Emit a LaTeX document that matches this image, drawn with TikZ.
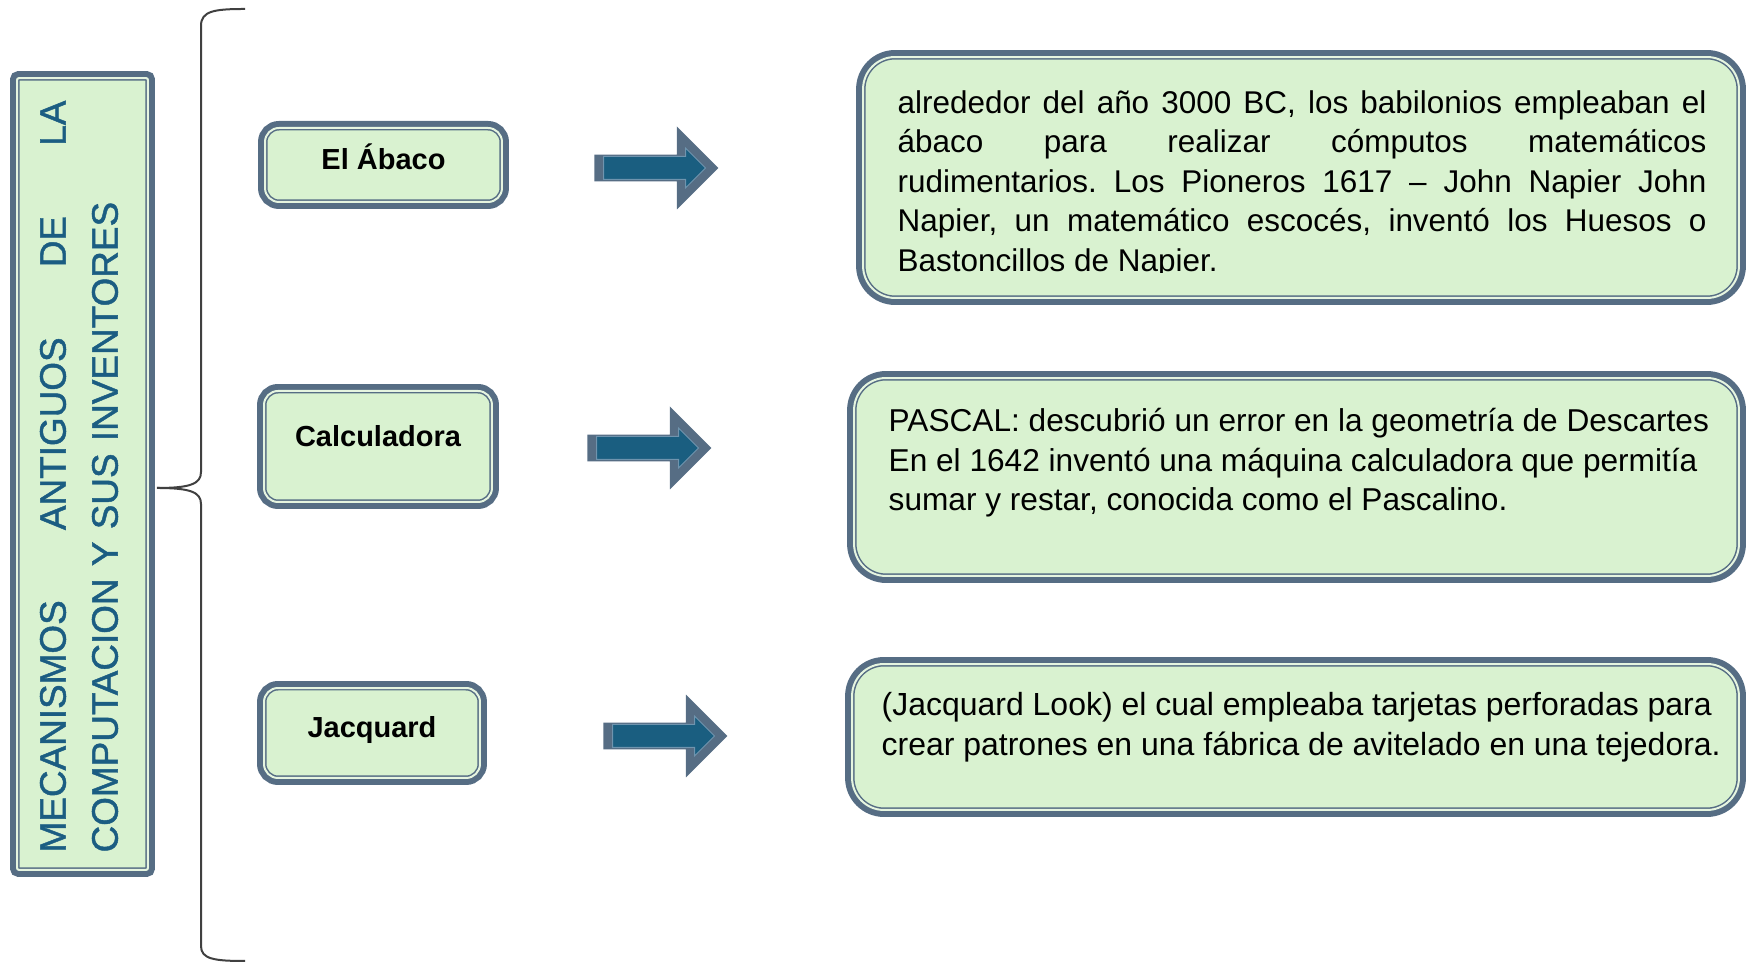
\documentclass[tikz,border=0pt]{standalone}
\usepackage{fontspec}
\setmainfont{Liberation Sans}
\usetikzlibrary{shapes.arrows}
\definecolor{edgeblue}{HTML}{566D84}
\definecolor{palegreen}{HTML}{D9F2D0}
\definecolor{gapgreen}{HTML}{E6F5E0}
\definecolor{titleblue}{HTML}{1B5D82}
\definecolor{arrowfill}{HTML}{1A5E80}
\definecolor{arrowline}{HTML}{6F94AE}
\definecolor{bracegray}{HTML}{404040}
\tikzset{>=stealth}
\tikzset{
  framed/.style={fill=palegreen, draw=edgeblue, double=gapgreen, line width=0.03cm,
    double distance=0.04cm, preaction={draw=edgeblue, line width=0.28cm}},
  titlebox/.style={framed, rounded corners=0.04cm, minimum width=2.62cm, minimum height=15.84cm},
  titletext/.style={rotate=90, text width=15.04cm, align=left, text=titleblue,
    font=\addfontfeature{FakeBold=1.2}\fontsize{21}{29.6}\selectfont},
  topicbox/.style={framed, rounded corners=0.28cm, font=\bfseries\fontsize{16.5}{20}\selectfont,
    text height=0.75em, text depth=0.25em},
  infobox/.style={framed, rounded corners=0.64cm},
  bodytext/.style={anchor=north west, inner sep=0pt, font=\frenchspacing\fontsize{17.9}{22.5}\selectfont},
  arrowouter/.style={single arrow, anchor=tail, fill=edgeblue, minimum height=2.48cm,
    minimum width=1.66cm, single arrow head extend=0.43cm, inner sep=0.2cm},
  arrowinner/.style={single arrow, anchor=tail, fill=arrowfill, draw=arrowline, line width=0.02cm,
    minimum height=2.04cm, minimum width=0.77cm, single arrow head extend=0.166cm, inner sep=0.22cm},
  bracecurve/.style={draw=bracegray, line width=0.04cm}
}

\begin{document}
\begin{tikzpicture}[x=0.02cm, y=0.02cm]
    \useasboundingbox (0,0) rectangle (1748,966);
    % title and brace
    \node [titlebox] (title) at (82.5,492) {};
    \node [titletext] (titlelines) at ([shift={(-0.07cm,-0.05cm)}]title.center) {MECANISMOS\hfill ANTIGUOS\hfill DE\hfill LA\\COMPUTACION Y SUS INVENTORES};
    \draw [bracecurve] (245,957) .. controls (214,957) and (201,955) .. (201,940) -- (201,494)
        .. controls (201,482) and (190,478) .. (157,478);
    \draw [bracecurve] (157,478) .. controls (190,478) and (201,474) .. (201,462) -- (201,20)
        .. controls (201,7) and (214,5) .. (245,5);
    % topics
    \node [topicbox, minimum width=4.74cm, minimum height=1.48cm] (abaco) at (383.5,801) {El Ábaco};
    \node [topicbox, minimum width=4.56cm, minimum height=2.22cm, text depth=0.75em] (calc) at (378,519.5) {Calculadora};
    \node [topicbox, minimum width=4.32cm, minimum height=1.80cm] (jacq) at (372,233) {Jacquard};
    % arrows
    \foreach \n/\x/\y in {1/594/798, 2/587/518, 3/603/230} {
        \node [arrowouter] (arrow\n) at (\x,\y) {};
        \node [arrowinner] (arrow\n in) at ([xshift=0.18cm]arrow\n.tail) {};
    }
    % descriptions
    \node [infobox, minimum width=17.52cm, minimum height=4.82cm] (abacoinfo) at (1301,788.5) {};
    \node [infobox, minimum width=17.70cm, minimum height=3.96cm] (calcinfo) at (1296.5,489) {};
    \node [infobox, minimum width=17.74cm, minimum height=2.92cm] (jacqinfo) at (1295.5,229) {};
    \begin{scope}
        \clip (863,693) rectangle (1740,909);
        \node [bodytext, text width=16.18cm, align=justify] (abacotext) at ([shift={(0.7cm,-0.68cm)}]abacoinfo.north west)
            {alrededor del año 3000 BC, los babilonios empleaban el\linebreak ábaco para realizar cómputos matemáticos\linebreak rudimentarios. Los Pioneros 1617 – John Napier John\linebreak Napier, un matemático escocés, inventó los Huesos o\linebreak Bastoncillos de Napier.};
    \end{scope}
    \node [bodytext, align=left, font=\fontsize{18.0}{22.5}\selectfont] (calctext) at ([shift={(0.7cm,-0.62cm)}]calcinfo.north west)
        {PASCAL: descubrió un error en la geometría de Descartes\\En el 1642 inventó una máquina calculadora que permitía\\sumar y restar, conocida como el Pascalino.};
    \node [bodytext, align=left, font=\fontsize{18.2}{22.5}\selectfont] (jacqtext) at ([shift={(0.6cm,-0.58cm)}]jacqinfo.north west)
        {(Jacquard Look) el cual empleaba tarjetas perforadas para\\crear patrones en una fábrica de avitelado en una tejedora.};
\end{tikzpicture}
\end{document}
